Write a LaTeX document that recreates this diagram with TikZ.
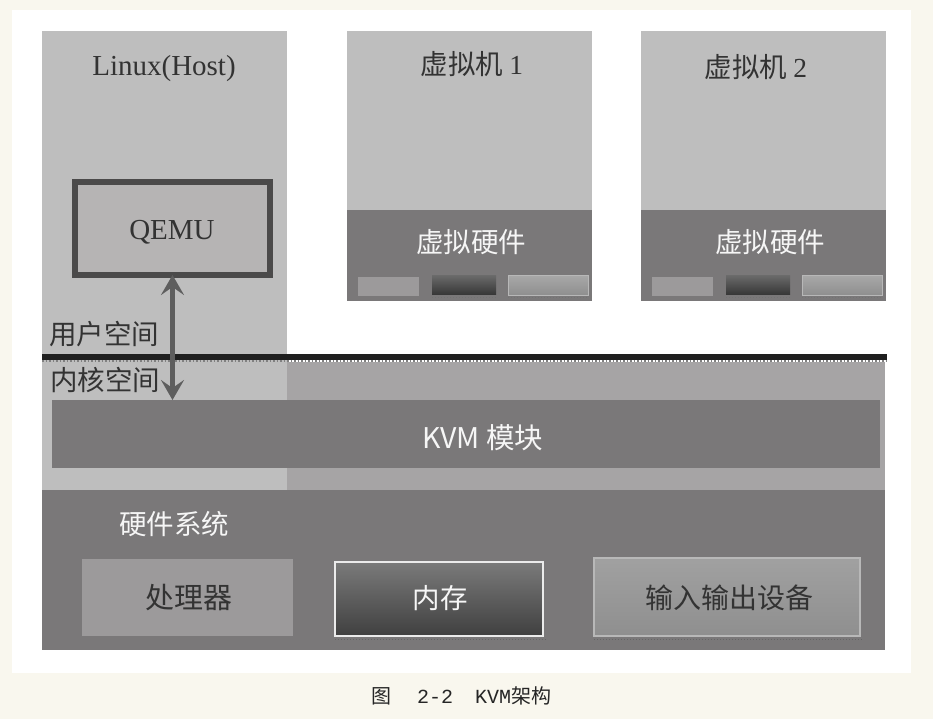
\documentclass[tikz,border=0pt]{standalone}
\usepackage{fontspec}
\setmainfont{Liberation Serif}
\newfontfamily\cjk{Noto Sans CJK SC}
\newfontfamily\capmono{Liberation Mono}
\usetikzlibrary{arrows.meta,calc}
\definecolor{cream}{HTML}{F9F7EE}
\definecolor{lg}{HTML}{BEBEBE}
\definecolor{mg}{HTML}{A6A4A5}
\definecolor{dg}{HTML}{7A7879}
\definecolor{qfill}{HTML}{B6B4B4}
\definecolor{qborder}{HTML}{4B4A4A}
\definecolor{sbox}{HTML}{9C9A9B}
\definecolor{darktext}{HTML}{333333}
\definecolor{wtext}{HTML}{F6F6F6}
\definecolor{arrowc}{HTML}{5E5E5E}
\tikzset{
  blk/.style={inner sep=0pt, outer sep=0pt, draw=none},
  serifbig/.style={font=\fontsize{29}{32}\selectfont, text=darktext, inner sep=0pt},
  cjkdark/.style={font=\cjk\fontsize{27.5}{32}\selectfont, text=darktext, inner sep=0pt},
  cjkwhite/.style={font=\cjk\fontsize{27.5}{32}\selectfont, text=wtext, inner sep=0pt},
  dblarrow/.style={draw=arrowc, line width=4.5pt,
    {Stealth[length=20pt,width=23pt,inset=8pt]}-{Stealth[length=20pt,width=23pt,inset=8pt]}},
}
\begin{document}
\begin{tikzpicture}[x=1pt,y=-1pt]
\fill[cream] (0,0) rectangle (933,719);
\useasboundingbox (0,0) rectangle (933,719);
\fill[white] (12,10) rectangle (911,673);

% Linux host column (user + kernel left part)
\fill[lg] (42,31) rectangle (287,490);
% kernel space right part
\fill[mg] (287,362) rectangle (885,490);

% virtual machines
\foreach \x/\n in {347/1,641/2}{
  \fill[lg] (\x,31) rectangle ++(245,179);
  \fill[dg] (\x,210) rectangle ++(245,91);
  \fill[sbox] ($(\x,0)+(11,277)$) rectangle ++(61,19);
}

% QEMU
\node[blk, draw=qborder, line width=6pt, fill=qfill, minimum width=195pt, minimum height=93pt] (qemu) at (172.5,228.5) {};
\node[serifbig] (qemutext) at (172,232) {QEMU};
\node[serifbig] (host) at (164,69) {Linux(Host)};

% KVM module
\node[blk, fill=dg, minimum width=828pt, minimum height=68pt] (kvm) at (466,434) {};
\node[font=\cjk\fontsize{28.5}{32}\selectfont, text=wtext, inner sep=0pt] (kvmtext) at (483,438) {KVM 模块};

% user/kernel separator
\draw[line width=5.5pt, black!88] (42,357) -- (887,357);
\draw[line width=1.5pt, dotted, gray] (42,361) -- (887,361);

\node[cjkdark, anchor=west] (user) at (49,334) {用户空间};
\node[cjkdark, anchor=west] (kern) at (50,380) {内核空间};

% arrow between QEMU and KVM
\draw[dblarrow] (qemu.south) -- (qemu.south |- kvm.north);

% hardware system
\fill[dg] (42,490) rectangle (885,650);
\node[cjkwhite, anchor=west] (hw) at (119,524) {硬件系统};
\node[blk, fill=sbox, minimum width=211pt, minimum height=77pt] (cpu) at (187.5,597) {};
\node[cjkdark, font=\cjk\fontsize{29}{32}\selectfont] (cputext) at (189,598) {处理器};
\node[blk, top color=black!52, bottom color=black!75, draw=white!92!black, line width=1.5pt, minimum width=208pt, minimum height=74pt] (mem) at (439,599) {};
\node[cjkwhite] (memtext) at (440,598) {内存};
\draw[dotted, line width=1pt, black!60] (mem.south west) ++(0,3) -- ++(211,0);
\node[blk, top color=black!37, bottom color=black!44, draw=black!28, line width=1.5pt, minimum width=266pt, minimum height=78pt] (io) at (727,597) {};
\node[cjkdark, font=\cjk\fontsize{28}{32}\selectfont] (iotext) at (729,598) {输入输出设备};
\draw[dotted, line width=1pt, black!60] (io.south west) ++(0,3) -- ++(268,0);

% virtual hardware labels and small parts
\foreach \x/\n in {347/1,641/2}{
  \shade[top color=black!58, bottom color=black!78] ($(\x,0)+(85,275)$) rectangle ++(64,19);
  \draw[dotted, line width=1pt, black!55] ($(\x,0)+(85,297)$) -- ++(64,0);
  \shade[top color=black!34, bottom color=black!44] ($(\x,0)+(161,275)$) rectangle ++(80,20);
  \draw[black!28, line width=1pt] ($(\x,0)+(161,275)$) rectangle ++(80,20);
  \draw[dotted, line width=1pt, black!55] ($(\x,0)+(161,297)$) -- ++(80,0);
}
\node[cjkdark] (vm1) at (472,64) {虚拟机 {\rmfamily 1}};
\node[cjkdark] (vm2) at (756,67) {虚拟机 {\rmfamily 2}};
\node[cjkwhite] (vh1) at (471,242) {虚拟硬件};
\node[cjkwhite] (vh2) at (770,242) {虚拟硬件};

% caption
\node[font=\capmono\fontsize{20}{24}\selectfont, text=black!85, inner sep=0pt] (cap) at (461,696)
  {{\cjk 图}\hspace{26pt}2-2\hspace{22pt}KVM{\cjk 架构}};
\end{tikzpicture}
\end{document}
